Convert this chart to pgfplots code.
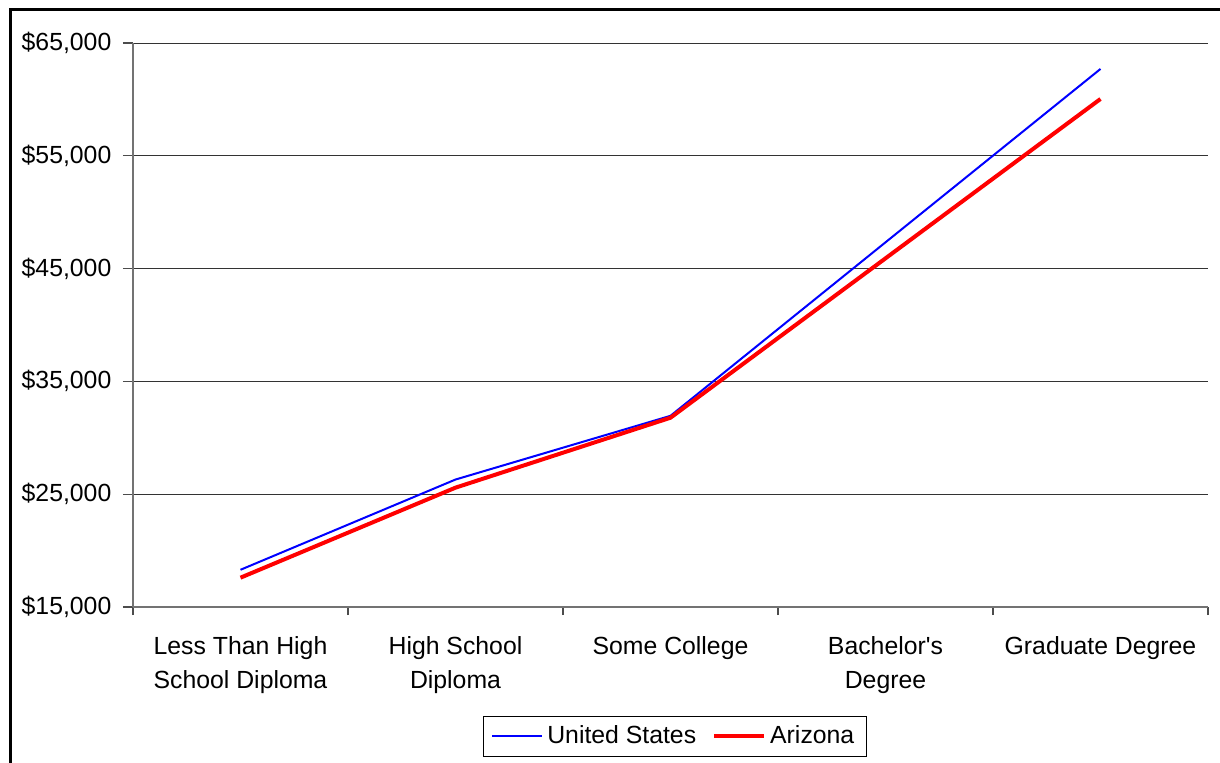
\documentclass[border=0pt]{standalone}
\usepackage{pgfplots}
\pgfplotsset{compat=1.18}
\usepackage{fontspec}
\setmainfont{Liberation Sans}
\definecolor{usblue}{RGB}{0,0,255}
\definecolor{azred}{RGB}{255,0,0}
\begin{document}
\fontsize{12.4}{17}\selectfont
\begin{tikzpicture}
\path[use as bounding box] (0,0) rectangle (610pt,381pt);
\draw[line width=1.5pt] (5pt,-5pt) -- (5pt,376pt) -- (615pt,376pt);
\begin{axis}[
  at={(66.5pt,77.5pt)}, anchor=south west,
  scale only axis, width=537.5pt, height=282pt,
  xmin=-0.5, xmax=4.5, ymin=15000, ymax=65000,
  scaled y ticks=false,
  axis x line*=bottom, axis y line*=left,
  axis line style={draw=black!55, line width=0.7pt},
  tick align=outside,
  xtick={0,1,2,3,4},
  xticklabels={Less Than High\\School Diploma, High School\\Diploma, Some College, Bachelor\textquotesingle s\\Degree, Graduate Degree},
  major x tick style={draw=none},
  minor xtick={-0.5,0.5,1.5,2.5,3.5,4.5},
  minor tick length=4pt,
  major tick length=5pt,
  tick style={draw=black!70, line width=0.6pt},
  x tick label style={align=center, font=\fontsize{12.4}{17}\selectfont, yshift=-5.5pt},
  ytick={15000,25000,35000,45000,55000,65000},
  yticklabels={{\$15,000},{\$25,000},{\$35,000},{\$45,000},{\$55,000},{\$65,000}},
  y tick label style={font=\fontsize{12.4}{17}\selectfont, xshift=-1.5pt},
  ymajorgrids,
  grid style={draw=black!80, line width=0.5pt},
  legend columns=2,
  legend style={at={(0.504,-0.229)}, anchor=center, draw=black, line width=0.5pt,
    font=\fontsize{12.4}{17}\selectfont, inner xsep=4pt, inner ysep=2.5pt,
    /tikz/every even column/.append style={column sep=6pt}},
  legend image code/.code={\draw[#1] (0pt,0pt) -- (25pt,0pt);},
]
\addplot[usblue, line width=1pt] coordinates {(0,18300) (1,26300) (2,31950) (3,47330) (4,62700)};
\addlegendentry{United States}
\addplot[azred, line width=2pt] coordinates {(0,17600) (1,25580) (2,31780) (3,45910) (4,60040)};
\addlegendentry{Arizona}
\end{axis}
\end{tikzpicture}
\end{document}
